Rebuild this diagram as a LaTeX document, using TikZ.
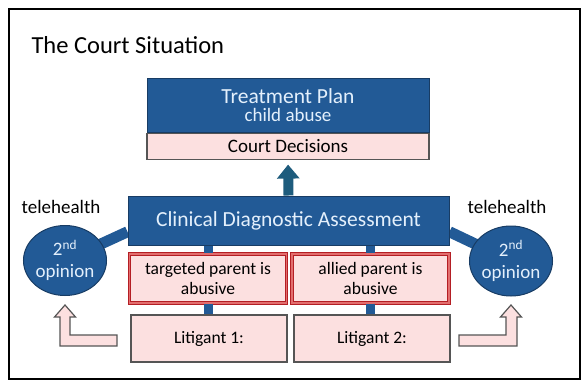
\documentclass[tikz,border=0pt]{standalone}
\usepackage{fontspec}
\setmainfont{Carlito}
\usetikzlibrary{arrows.meta,backgrounds,shapes.geometric}
\definecolor{boxblue}{RGB}{34,90,150}
\definecolor{edgeblue}{RGB}{24,60,100}
\definecolor{arrowblue}{RGB}{30,92,125}
\definecolor{boxpink}{RGB}{252,224,224}
\definecolor{edgered}{RGB}{180,30,36}
\definecolor{innerred}{RGB}{226,110,110}
\definecolor{lighttext}{RGB}{228,240,252}
\definecolor{edgegray}{RGB}{85,85,85}
\tikzset{
	bluebox/.style={draw=edgeblue, fill=boxblue, text=lighttext, line width=1pt, inner sep=0pt, align=center},
	pinkbox/.style={draw=edgegray, fill=boxpink, line width=1.1pt, inner sep=0pt, align=center},
	redbox/.style={draw=edgered, double=innerred, double distance=1.2pt, line width=1.2pt, fill=boxpink, inner sep=0pt, align=center},
	opinion/.style={ellipse, draw=edgeblue, fill=boxblue, text=lighttext, line width=1pt, inner sep=0pt, align=center, minimum width=79pt, minimum height=70pt},
	link/.style={draw=boxblue, line width=11pt},
	stem/.style={draw=boxblue, line width=9pt},
	rise/.style={draw=arrowblue, line width=10pt, -{Triangle[width=22pt,length=14pt]}},
	hollow/.style={draw=edgegray, fill=boxpink, line width=1.2pt, line join=miter},
}

\begin{document}
\begin{tikzpicture}[x=1pt, y=-1pt]
			%%%%% START %%%%%
			
			\useasboundingbox (0,0) rectangle (582,383);
			\draw[line width=2pt] (9,9) rectangle (580,379);
			
			\node[anchor=base west, font=\fontsize{24.5}{28}\selectfont] (title) at (28,53) {The Court Situation};
			
			\node[bluebox, minimum width=282pt, minimum height=54pt, font=\fontsize{21.5}{18.5}\selectfont] (plan) at (288,105) {Treatment Plan\\{\fontsize{19}{18.5}\selectfont child abuse}};
			\node[pinkbox, minimum width=282pt, minimum height=26pt, font=\fontsize{19}{20}\selectfont, anchor=north] (court) at (plan.south) {Court Decisions};
			
			\node[bluebox, minimum width=321pt, minimum height=49pt, font=\fontsize{21.5}{24}\selectfont] (cda) at (288.5,220.5) {Clinical Diagnostic Assessment};
			\draw[rise, shorten >=5pt] (cda.north) -- (court.south);
			
			\node[redbox, minimum width=157pt, minimum height=49pt, font=\fontsize{17.5}{19.5}\selectfont] (tgt) at (208,278.5) {targeted parent is\\abusive};
			\node[redbox, minimum width=157pt, minimum height=49pt, font=\fontsize{17.5}{19.5}\selectfont] (ally) at (370.5,278.5) {allied parent is\\abusive};
			
			\node[pinkbox, minimum width=156pt, minimum height=47pt, font=\fontsize{17.5}{20}\selectfont] (lit1) at (209,338.5) {Litigant 1:};
			\node[pinkbox, minimum width=156pt, minimum height=47pt, font=\fontsize{17.5}{20}\selectfont] (lit2) at (372,338.5) {Litigant 2:};
			
			\draw[stem] (tgt.north) -- (tgt.north |- cda.south);
			\draw[stem] (tgt.south) -- (tgt.south |- lit1.north);
			\draw[stem] (ally.north) -- (ally.north |- cda.south);
			\draw[stem] (ally.south) -- (ally.south |- lit2.north);
			
			\node[opinion, font=\fontsize{19}{22}\selectfont] (opL) at (65,260.5) {2\textsuperscript{nd}\\opinion};
			\node[opinion, font=\fontsize{19}{22}\selectfont] (opR) at (511,261) {2\textsuperscript{nd}\\opinion};
			\node[font=\fontsize{19}{20}\selectfont] (teleL) at (61,207) {telehealth};
			\node[font=\fontsize{19}{20}\selectfont] (teleR) at (507,207) {telehealth};
			
			\begin{scope}[on background layer]
				\draw[link] (opL.center) -- (cda.184);
				\draw[link] (opR.center) -- (cda.356);
			\end{scope}
			
			\draw[hollow] (117,335) -- (70,335) -- (70,317) -- (75.5,317) -- (65,305) -- (54.5,317) -- (60,317) -- (60,346) -- (117,346) -- cycle;
			\draw[hollow] (459,335) -- (506,335) -- (506,317) -- (500.5,317) -- (511,305) -- (521.5,317) -- (517,317) -- (517,346) -- (459,346) -- cycle;
			
			%%%%% END %%%%%
\end{tikzpicture}
\end{document}
